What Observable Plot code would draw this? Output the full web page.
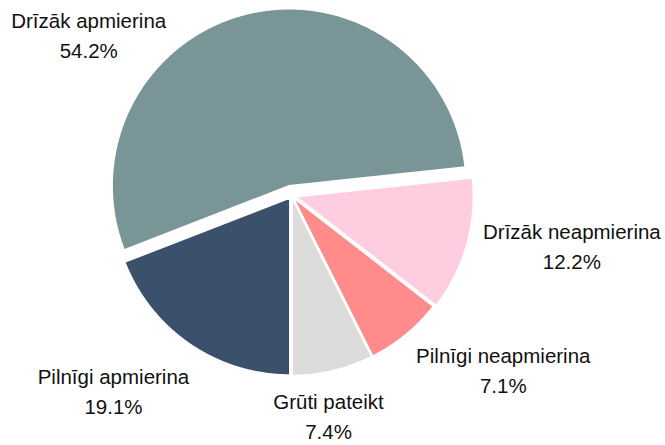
<!DOCTYPE html>
<html><head><meta charset="utf-8">
<script src="https://cdn.jsdelivr.net/npm/d3@7"></script>
<script src="https://cdn.jsdelivr.net/npm/@observablehq/plot@0.6"></script>
<style>body{margin:0;background:#fff;overflow:hidden}</style>
</head><body><div id="chart"></div>
<script>
// ---- data ----
const categories = ["Pilnīgi apmierina", "Drīzāk apmierina", "Drīzāk neapmierina", "Pilnīgi neapmierina", "Grūti pateikt"];
const values = [19.1, 54.2, 12.2, 7.1, 7.4];
const valueLabels = ["19.1%", "54.2%", "12.2%", "7.1%", "7.4%"];
const colors = ["#3b506b", "#7a9597", "#ffcce0", "#ff8b8a", "#dcdcdc"];

// ---- layout ----
const W = 665, H = 445, CX = 291, CY = 195, R = 177;
const explode = [3, 10, 5, 3, 3];            // px
const labelAngle = [222.5, 308.6, 99.9, 129.2, 170.4];   // deg, clockwise from top
const labelDist = [1.489, 1.466, 1.608, 1.544, 1.254];  // radius units

const arcs = d3.pie().sort(null).startAngle(Math.PI).endAngle(3 * Math.PI)(values);

const slicePts = [];
arcs.forEach((a, i) => {
  const mid = (a.startAngle + a.endAngle) / 2;
  const ox = explode[i] / R * Math.sin(mid), oy = -explode[i] / R * Math.cos(mid);
  slicePts.push({cat: categories[i], x: ox, y: oy});
  const n = Math.max(8, Math.ceil((a.endAngle - a.startAngle) / (Math.PI / 360)));
  for (let k = 0; k <= n; k++) {
    const t = a.startAngle + (a.endAngle - a.startAngle) * k / n;
    slicePts.push({cat: categories[i], x: ox + Math.sin(t), y: oy - Math.cos(t)});
  }
});

const labels = categories.map((c, i) => {
  const t = labelAngle[i] * Math.PI / 180;
  return {text: c + "\n" + valueLabels[i], x: labelDist[i] * Math.sin(t), y: -labelDist[i] * Math.cos(t)};
});

const chart = Plot.plot({
  width: W, height: H, margin: 0,
  style: {fontFamily: "'Liberation Sans', Arial, sans-serif", background: "#fff"},
  x: {domain: [-CX / R, (W - CX) / R], range: [0, W], axis: null},
  y: {domain: [-CY / R, (H - CY) / R], range: [0, H], axis: null},
  color: {domain: categories, range: colors},
  marks: [
    Plot.line(slicePts, {x: "x", y: "y", z: "cat", fill: "cat", stroke: "white", strokeWidth: 1.5, curve: "linear-closed"}),
    Plot.text(labels, {x: "x", y: "y", text: "text", fontSize: 20.5, lineHeight: 30 / 20.5, fill: "#111", textAnchor: "middle"})
  ]
});
document.getElementById("chart").appendChild(chart);
</script>
</body></html>
